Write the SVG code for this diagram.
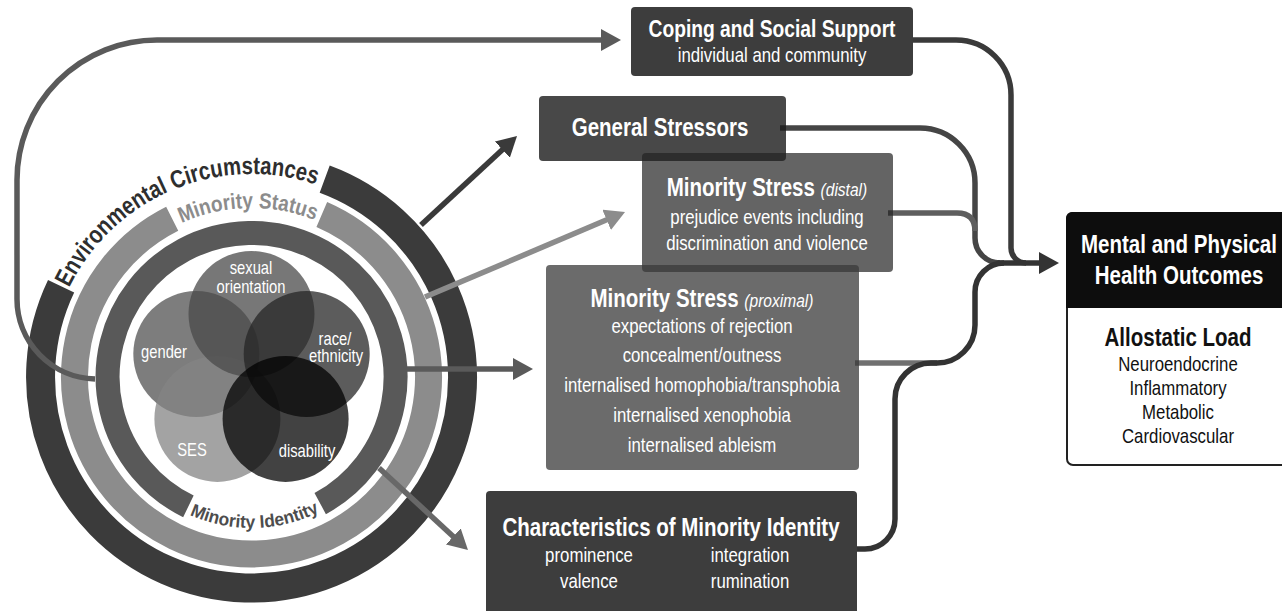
<svg xmlns="http://www.w3.org/2000/svg" width="1282" height="611" viewBox="0 0 1282 611">
<style>
text{font-family:"Liberation Sans",Arial,sans-serif;}
.w{fill:#fff}
.b{font-weight:bold}
.c{text-anchor:middle}
.ttl{font-size:25px;font-weight:bold}
.bd{font-size:20.5px}
.it{font-size:19px;font-style:italic;font-weight:normal}
.vn{font-size:18px;fill:#fff;text-anchor:middle}
.ln{fill:none;stroke-width:5.5}
.ring{fill:none}
</style>
<defs>
<marker id="a1" markerUnits="userSpaceOnUse" markerWidth="20" markerHeight="22" viewBox="0 0 20 22" refX="4" refY="11" orient="auto"><path d="M0,0 L20,11 L0,22 z" fill="#3a3a3a"/></marker>
<marker id="a2" markerUnits="userSpaceOnUse" markerWidth="20" markerHeight="22" viewBox="0 0 20 22" refX="4" refY="11" orient="auto"><path d="M0,0 L20,11 L0,22 z" fill="#8c8c8c"/></marker>
<marker id="a3" markerUnits="userSpaceOnUse" markerWidth="20" markerHeight="22" viewBox="0 0 20 22" refX="4" refY="11" orient="auto"><path d="M0,0 L20,11 L0,22 z" fill="#5a5a5a"/></marker>
<marker id="a4" markerUnits="userSpaceOnUse" markerWidth="20" markerHeight="22" viewBox="0 0 20 22" refX="4" refY="11" orient="auto"><path d="M0,0 L20,11 L0,22 z" fill="#686868"/></marker>
<marker id="a5" markerUnits="userSpaceOnUse" markerWidth="20" markerHeight="22" viewBox="0 0 20 22" refX="4" refY="11" orient="auto"><path d="M0,0 L20,11 L0,22 z" fill="#333"/></marker>
<path id="pEnv" d="M 51.6,341.8 A 203 203 0 0 1 366.8,209.9"/>
<path id="pStat" d="M 142.9,247.5 A 169 169 0 0 1 354.4,242.9"/>
<path id="pId" d="M 167.6,502.6 A 151 151 0 0 0 340.8,498.8"/>
</defs>

<g id="model-rings">
<path class="ring" d="M 324.7,179.1 A 211 211 0 1 1 61.1,286.2" stroke="#3b3b3b" stroke-width="29"/>
<path class="ring" d="M 321.8,214.5 A 177 177 0 1 1 172.2,218.7" stroke="#8c8c8c" stroke-width="27"/>
<path class="ring" d="M 188.4,506.4 A 144 144 0 1 1 320.2,503.6" stroke="#595959" stroke-width="24"/>
<text class="b" font-size="25" fill="#2e2e2e"><textPath href="#pEnv" startOffset="50%" text-anchor="middle" textLength="292" lengthAdjust="spacingAndGlyphs">Environmental Circumstances</textPath></text>
<text class="b" font-size="22" fill="#8c8c8c"><textPath href="#pStat" startOffset="50%" text-anchor="middle" textLength="137" lengthAdjust="spacingAndGlyphs">Minority Status</textPath></text>
<text class="b" font-size="18" fill="#4d4d4d"><textPath href="#pId" startOffset="50%" text-anchor="middle" textLength="134" lengthAdjust="spacingAndGlyphs">Minority Identity</textPath></text>
</g>

<g id="venn">
<circle cx="196.3" cy="354.1" r="63" fill="#525252" fill-opacity="0.75"/>
<circle cx="217.4" cy="418.9" r="63" fill="#848484" fill-opacity="0.75"/>
<circle cx="251.5" cy="314" r="63" fill="#4a4a4a" fill-opacity="0.75"/>
<circle cx="306.7" cy="354.1" r="63" fill="#262626" fill-opacity="0.75"/>
<circle cx="285.6" cy="418.9" r="63" fill="#000" fill-opacity="0.74"/>
<text class="vn" transform="translate(251 0) scale(.82 1)" y="274">sexual</text>
<text class="vn" transform="translate(251 0) scale(.82 1)" y="293">orientation</text>
<text class="vn" transform="translate(164 0) scale(.82 1)" y="358">gender</text>
<text class="vn" transform="translate(335 0) scale(.82 1)" y="345">race/</text>
<text class="vn" transform="translate(336 0) scale(.82 1)" y="362">ethnicity</text>
<text class="vn" transform="translate(192 0) scale(.82 1)" y="456">SES</text>
<text class="vn" transform="translate(307 0) scale(.82 1)" y="457">disability</text>
</g>

<g id="connectors">
<path class="ln" stroke="#5a5a5a" d="M 95,379 A 80 80 0 0 1 17,299 V 180 A 140 140 0 0 1 157,40 H 605" marker-end="url(#a3)"/>
<path class="ln" stroke="#3a3a3a" d="M 421,225 L 505.3,146.9" marker-end="url(#a1)"/>
<path class="ln" stroke="#8c8c8c" d="M 425,297 L 610.3,218.3" marker-end="url(#a2)"/>
<path class="ln" stroke="#5a5a5a" d="M 407,369 H 517" marker-end="url(#a3)"/>
<path class="ln" stroke="#686868" d="M 379,468 L 456.2,539.2" marker-end="url(#a4)"/>
<path class="ln" stroke="#3a3a3a" d="M 910,40 H 956 A 55 55 0 0 1 1011,95 V 248 A 15 15 0 0 0 1026,263"/>
<path class="ln" stroke="#454545" d="M 780,128 H 920 A 55 55 0 0 1 975,183 V 238 A 25 25 0 0 0 1000,263"/>
<path class="ln" stroke="#5e5e5e" d="M 888,213 H 957 Q 975,213 975,231"/>
<path class="ln" stroke="#707070" d="M 855,363 H 937"/>
<path class="ln" stroke="#333" d="M 852,549 H 865 A 30 30 0 0 0 895,519 V 399 A 36 36 0 0 1 931,363 H 937 A 38 38 0 0 0 975,325 V 292 A 29 29 0 0 1 1004,263"/>
<path class="ln" stroke="#333" d="M 998,263 H 1043" marker-end="url(#a5)"/>
</g>

<g id="coping">
<rect x="631" y="7" width="282" height="69" rx="4" fill="#3d3d3d"/>
<text class="w c b" font-size="23.5" transform="translate(772 0) scale(.82 1)" y="37">Coping and Social Support</text>
<text class="w c bd" transform="translate(772 0) scale(.82 1)" y="62">individual and community</text>
</g>

<g id="general">
<rect x="539" y="96" width="247" height="65" rx="4" fill="#1a1a1a" fill-opacity="0.8"/>
<text class="w c ttl" transform="translate(660 0) scale(.82 1)" y="136">General Stressors</text>
</g>

<g id="distal">
<rect x="642" y="153" width="251" height="119" rx="4" fill="#222" fill-opacity="0.7"/>
<text class="w c ttl" transform="translate(767 0) scale(.82 1)" y="196">Minority Stress <tspan class="it">(distal)</tspan></text>
<text class="w c bd" transform="translate(767 0) scale(.82 1)" y="224">prejudice events including</text>
<text class="w c bd" transform="translate(767 0) scale(.82 1)" y="250">discrimination and violence</text>
</g>

<g id="proximal">
<rect x="546" y="265" width="313" height="205" rx="4" fill="#3a3a3a" fill-opacity="0.75"/>
<text class="w c ttl" transform="translate(702 0) scale(.82 1)" y="307">Minority Stress <tspan class="it">(proximal)</tspan></text>
<text class="w c bd" transform="translate(702 0) scale(.82 1)" y="333">expectations of rejection</text>
<text class="w c bd" transform="translate(702 0) scale(.82 1)" y="362">concealment/outness</text>
<text class="w c bd" transform="translate(702 0) scale(.82 1)" y="392">internalised homophobia/transphobia</text>
<text class="w c bd" transform="translate(702 0) scale(.82 1)" y="422">internalised xenophobia</text>
<text class="w c bd" transform="translate(702 0) scale(.82 1)" y="452">internalised ableism</text>
</g>

<g id="characteristics">
<rect x="486" y="491" width="371" height="130" rx="4" fill="#3d3d3d"/>
<text class="w c ttl" transform="translate(671 0) scale(.82 1)" y="536">Characteristics of Minority Identity</text>
<text class="w c bd" transform="translate(589 0) scale(.82 1)" y="562">prominence</text>
<text class="w c bd" transform="translate(750 0) scale(.82 1)" y="562">integration</text>
<text class="w c bd" transform="translate(589 0) scale(.82 1)" y="588">valence</text>
<text class="w c bd" transform="translate(750 0) scale(.82 1)" y="588">rumination</text>
</g>

<g id="outcomes">
<rect x="1067" y="213" width="240" height="252" rx="6" fill="#fff" stroke="#222" stroke-width="2"/>
<rect x="1066" y="212" width="242" height="96" rx="6" fill="#0d0d0d"/>
<rect x="1066" y="290" width="242" height="18" fill="#0d0d0d"/>
<text class="w c ttl" transform="translate(1179 0) scale(.82 1)" y="253">Mental and Physical</text>
<text class="w c ttl" transform="translate(1179 0) scale(.82 1)" y="284">Health Outcomes</text>
<text class="c ttl" transform="translate(1178 0) scale(.82 1)" y="346" fill="#111">Allostatic Load</text>
<text class="c bd" transform="translate(1178 0) scale(.82 1)" y="371" fill="#111">Neuroendocrine</text>
<text class="c bd" transform="translate(1178 0) scale(.82 1)" y="395" fill="#111">Inflammatory</text>
<text class="c bd" transform="translate(1178 0) scale(.82 1)" y="419" fill="#111">Metabolic</text>
<text class="c bd" transform="translate(1178 0) scale(.82 1)" y="443" fill="#111">Cardiovascular</text>
</g>
</svg>
